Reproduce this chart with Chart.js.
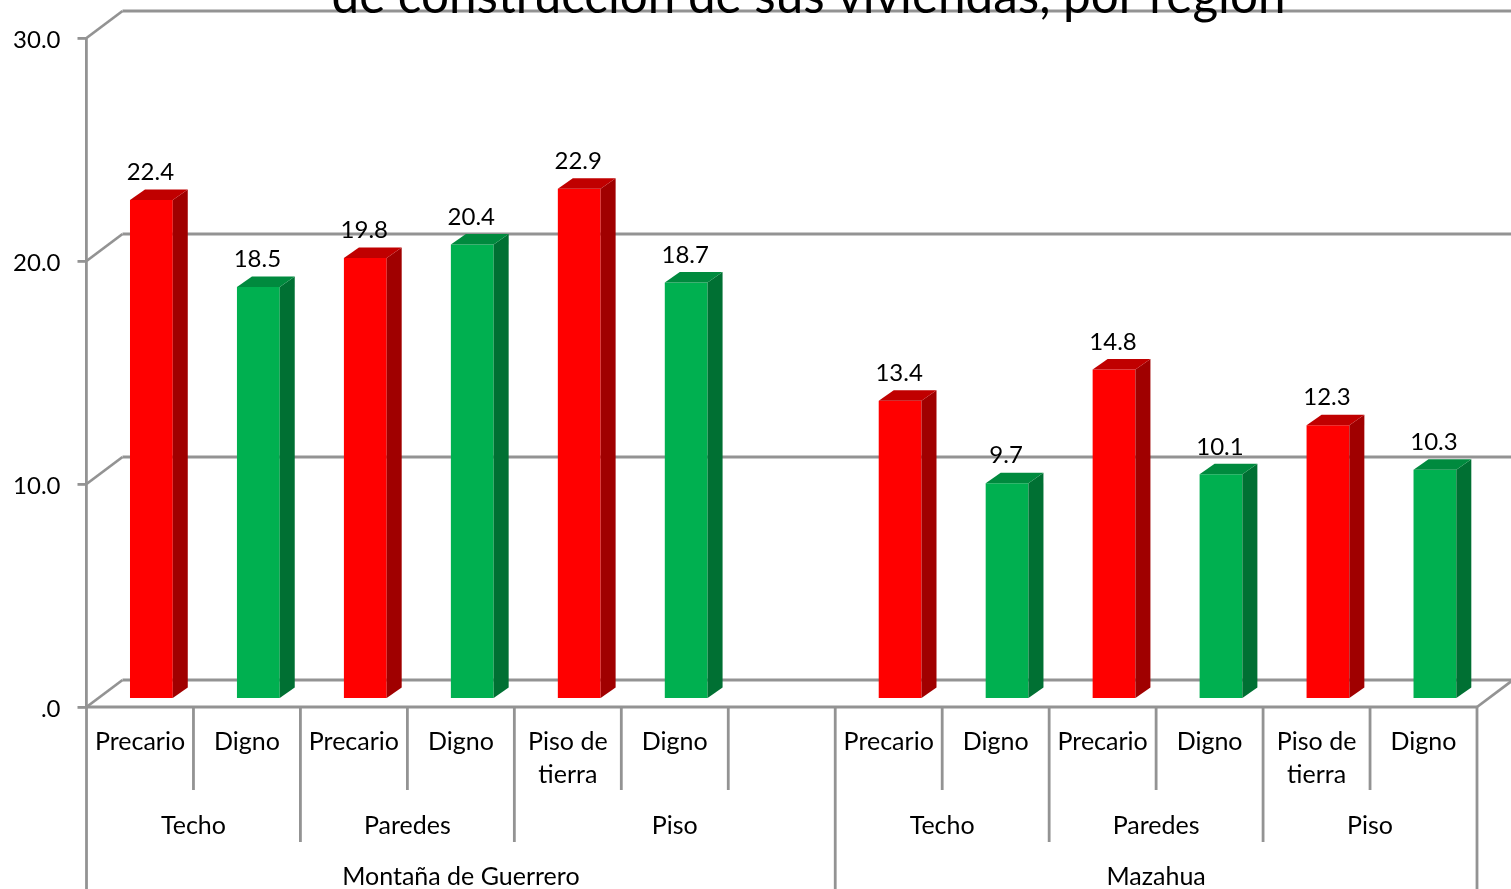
<!DOCTYPE html>
<html>
<head>
<meta charset="utf-8">
<style>html,body{margin:0;padding:0;background:#fff;overflow:hidden}canvas{display:block}</style>
<script src="https://cdn.jsdelivr.net/npm/chart.js@4/dist/chart.umd.min.js"></script>
</head>
<body>
<canvas id="c" width="1511" height="889"></canvas>
<script>
const titleText = "de construcción de sus viviendas, por región";
const categories = [["Precario"],["Digno"],["Precario"],["Digno"],["Piso de","tierra"],["Digno"],[""],
                    ["Precario"],["Digno"],["Precario"],["Digno"],["Piso de","tierra"],["Digno"]];
const values = [22.4,18.5,19.8,20.4,22.9,18.7,null,13.4,9.7,14.8,10.1,12.3,10.3];
const valueLabels = ["22.4","18.5","19.8","20.4","22.9","18.7","","13.4","9.7","14.8","10.1","12.3","10.3"];
const yTickLabels = {0:".0",10:"10.0",20:"20.0",30:"30.0"};
const midGroups = [["Techo",0,2],["Paredes",2,4],["Piso",4,7],["Techo",7,9],["Paredes",9,11],["Piso",11,13]];
const topGroups = [["Montaña de Guerrero",0,7],["Mazahua",7,13]];
// divider depth per slot boundary: 1 = first row, 2 = second row, 3 = full height
const dividerDepths = [3,1,2,1,2,1,1,3,1,2,1,2,1,3];

const GRAY = "#939393", FONT = "Lato, Carlito, sans-serif", LW = 2.8;
const WALL = {dx:36, dy:-27}, BAR_DEPTH = {dx:15, dy:-10.5}, BAR_SHIFT = {dx:11.4, dy:-7.5};
const rowBottom = {1:790, 2:842, 3:889};
const isDigno = i => categories[i][0] === "Digno";
const palette = {
  red:{front:"#FF0000", side:"#A00000", top:"#C00000"},
  green:{front:"#00B050", side:"#007033", top:"#008A3E"}
};
const colorsOf = i => isDigno(i) ? palette.green : palette.red;

function line(ctx,x1,y1,x2,y2){ctx.beginPath();ctx.moveTo(x1,y1);ctx.lineTo(x2,y2);ctx.stroke();}

const walls3d = {
  id:"walls3d",
  beforeDatasetsDraw(chart){
    const {ctx,chartArea:a,scales:{x,y}} = chart;
    ctx.save();
    ctx.strokeStyle = GRAY; ctx.lineWidth = LW;
    Object.keys(yTickLabels).forEach(v=>{
      const py = y.getPixelForValue(+v);
      line(ctx,a.left,py,a.left+WALL.dx,py+WALL.dy);
      line(ctx,a.left+WALL.dx,py+WALL.dy,a.right+WALL.dx,py+WALL.dy);
    });
    const py0 = y.getPixelForValue(0);
    line(ctx,a.right,py0,a.right+WALL.dx,py0+WALL.dy);
    // value axis labels, sitting slightly below their tick marks
    ctx.fillStyle = "#000"; ctx.font = "24px "+FONT; ctx.textAlign = "right"; ctx.textBaseline = "middle";
    y.ticks.forEach(t=>ctx.fillText(t.label,a.left-26,y.getPixelForValue(t.value)+2));
    ctx.restore();
    // bars stand on the floor, part way into the depth of the box
    ctx.save();
    ctx.translate(BAR_SHIFT.dx,BAR_SHIFT.dy);
  },
  afterDatasetsDraw(chart){
    const {ctx,chartArea:a,scales:{x,y}} = chart;
    const meta = chart.getDatasetMeta(0);
    meta.data.forEach((b,i)=>{
      if(values[i]===null) return;
      const w = b.width/2, c = colorsOf(i), {dx,dy} = BAR_DEPTH;
      ctx.fillStyle = c.side;
      ctx.beginPath();
      ctx.moveTo(b.x+w,b.y);ctx.lineTo(b.x+w+dx,b.y+dy);ctx.lineTo(b.x+w+dx,b.base+dy);ctx.lineTo(b.x+w,b.base);
      ctx.closePath();ctx.fill();
      ctx.fillStyle = c.top;
      ctx.beginPath();
      ctx.moveTo(b.x-w,b.y);ctx.lineTo(b.x-w+dx,b.y+dy);ctx.lineTo(b.x+w+dx,b.y+dy);ctx.lineTo(b.x+w,b.y);
      ctx.closePath();ctx.fill();
    });
    ctx.fillStyle = "#000"; ctx.font = "24px "+FONT; ctx.textAlign = "center"; ctx.textBaseline = "middle";
    meta.data.forEach((b,i)=>{
      if(values[i]!==null) ctx.fillText(valueLabels[i],b.x-1,b.y-27.5);
    });
    ctx.restore();

    // front floor edge, category dividers and grouped labels
    ctx.save();
    const slot = (a.right-a.left)/categories.length;
    const bx = i => x.getPixelForValue(0)-slot/2+i*slot;
    const py0 = y.getPixelForValue(0);
    ctx.strokeStyle = GRAY; ctx.lineWidth = LW;
    line(ctx,a.left,py0,a.right,py0);
    dividerDepths.forEach((d,i)=>line(ctx,bx(i),py0,bx(i),rowBottom[d]));
    ctx.fillStyle = "#000"; ctx.font = "25px "+FONT; ctx.textAlign = "center"; ctx.textBaseline = "middle";
    midGroups.forEach(([t,s,e])=>ctx.fillText(t,(bx(s)+bx(e))/2,826));
    topGroups.forEach(([t,s,e])=>ctx.fillText(t,(bx(s)+bx(e))/2,877));
    ctx.font = "49.4px "+FONT; ctx.textBaseline = "alphabetic";
    ctx.fillText(titleText,808.5,12.5);
    ctx.restore();
  }
};

new Chart(document.getElementById("c"),{
  type:"bar",
  data:{
    labels:categories,
    datasets:[{
      data:values,
      backgroundColor:values.map((_,i)=>colorsOf(i).front),
      barPercentage:0.4,
      categoryPercentage:1
    }]
  },
  options:{
    responsive:false,
    animation:false,
    layout:{padding:{top:38,right:34,bottom:0,left:0}},
    plugins:{legend:{display:false},tooltip:{enabled:false},title:{display:false}},
    scales:{
      x:{
        afterFit(s){s.height=182;},
        grid:{display:false},
        border:{display:false},
        ticks:{autoSkip:false,maxRotation:0,minRotation:0,padding:10,color:"#000",font:{family:FONT,size:25,lineHeight:1.32}}
      },
      y:{
        min:0,max:30,
        afterFit(s){s.width=86.5;},
        afterBuildTicks(s){s.ticks=Object.keys(yTickLabels).map(v=>({value:+v}));},
        grid:{drawOnChartArea:false,drawTicks:true,tickLength:9,color:GRAY,lineWidth:LW},
        border:{display:true,color:GRAY,width:LW},
        ticks:{display:false,callback:v=>yTickLabels[v]}
      }
    }
  },
  plugins:[walls3d]
});
</script>
</body>
</html>
